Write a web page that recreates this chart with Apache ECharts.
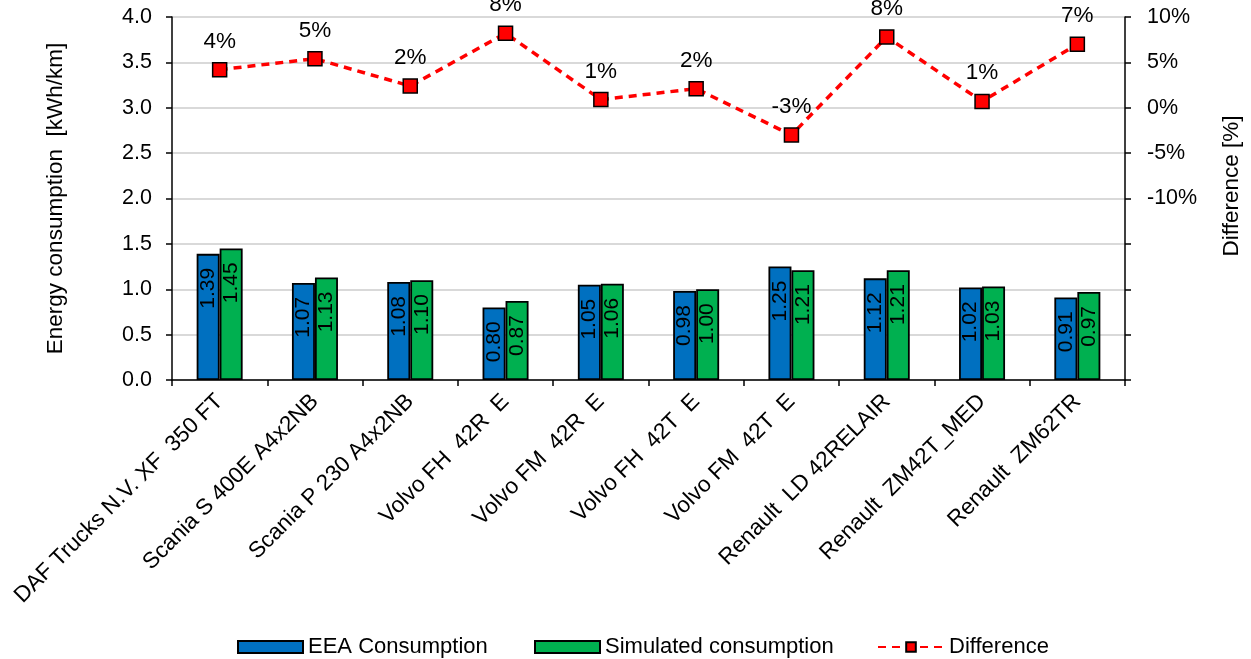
<!DOCTYPE html>
<html>
<head>
<meta charset="utf-8">
<script src="https://cdn.jsdelivr.net/npm/echarts@6/dist/echarts.min.js"></script>
<style>
html,body{margin:0;padding:0;background:#fff;}
#chart{width:1251px;height:659px;}
</style>
</head>
<body>
<div id="chart"></div>
<script>
const categories = [
  "DAF Trucks N.V. XF  350 FT",
  "Scania S 400E A4x2NB",
  "Scania P 230 A4x2NB",
  "Volvo FH  42R  E",
  "Volvo FM  42R  E",
  "Volvo FH  42T  E",
  "Volvo FM  42T  E",
  "Renault  LD 42RELAIR",
  "Renault  ZM42T_MED",
  "Renault  ZM62TR"
];
const eeaConsumption = [1.39, 1.07, 1.08, 0.80, 1.05, 0.98, 1.25, 1.12, 1.02, 0.91];
const simulatedConsumption = [1.45, 1.13, 1.10, 0.87, 1.06, 1.00, 1.21, 1.21, 1.03, 0.97];
const differencePct = [4.2, 5.4, 2.4, 8.2, 0.9, 2.1, -3.0, 7.8, 0.7, 7.0];
const seriesNames = ['EEA Consumption', 'Simulated consumption', 'Difference'];

const FONT = "'Liberation Sans', Arial, sans-serif";
const chart = echarts.init(document.getElementById('chart'), null, {renderer: 'canvas'});

const barLabel = {
  show: true,
  position: 'insideTop',
  distance: 14,
  rotate: 90,
  align: 'right',
  verticalAlign: 'middle',
  fontSize: 21,
  fontFamily: FONT,
  color: '#000',
  formatter: p => p.value.toFixed(2)
};

const legendText = {fontFamily: FONT, fontSize: 22, color: '#000'};
function mkLegend(name, left, w, icon) {
  const l = {
    left: left, top: 636, padding: 0,
    itemWidth: w, itemHeight: 12, itemGap: 0,
    textStyle: legendText,
    data: [name]
  };
  if (icon) l.icon = icon;
  return l;
}

chart.setOption({
  animation: false,
  backgroundColor: '#fff',
  textStyle: {fontFamily: FONT, color: '#000'},
  grid: {left: 172, right: 125, top: 17, bottom: 279, containLabel: false},
  legend: [
    mkLegend(seriesNames[0], 237, 65, 'rect'),
    mkLegend(seriesNames[1], 534, 65, 'rect'),
    mkLegend(seriesNames[2], 877, 66)
  ],
  xAxis: {
    type: 'category',
    data: categories,
    boundaryGap: true,
    axisLine: {lineStyle: {color: '#000', width: 1.5}},
    axisTick: {show: true, alignWithLabel: false, length: 6, lineStyle: {color: '#000', width: 1.5}},
    axisLabel: {rotate: 45, fontSize: 22.5, fontFamily: FONT, color: '#000', margin: 18, interval: 0}
  },
  yAxis: [
    {
      type: 'value',
      min: 0, max: 4, interval: 0.5,
      name: 'Energy consumption  [kWh/km]',
      nameLocation: 'middle',
      nameGap: 105,
      nameRotate: 90,
      nameTextStyle: {fontSize: 22.5, fontFamily: FONT, color: '#000'},
      axisLine: {show: true, lineStyle: {color: '#000', width: 1.5}},
      axisTick: {show: true, length: 6, lineStyle: {color: '#000', width: 1.5}},
      axisLabel: {fontSize: 21.5, fontFamily: FONT, color: '#000', margin: 20, formatter: v => v.toFixed(1)},
      splitLine: {show: true, lineStyle: {color: '#d9d9d9', width: 2}}
    },
    {
      type: 'value',
      min: -30, max: 10, interval: 5,
      position: 'right',
      name: 'Difference [%]',
      nameLocation: 'middle',
      nameGap: 95,
      nameRotate: 90,
      nameTextStyle: {fontSize: 22.5, fontFamily: FONT, color: '#000', padding: [0, 0, 0, 25]},
      axisLine: {show: true, lineStyle: {color: '#000', width: 1.5}},
      axisTick: {show: true, length: 6, lineStyle: {color: '#000', width: 1.5}},
      axisLabel: {fontSize: 21.5, fontFamily: FONT, color: '#000', margin: 22,
        formatter: v => (v >= -10 ? v + '%' : '')},
      splitLine: {show: false}
    }
  ],
  series: [
    {
      name: seriesNames[0],
      type: 'bar',
      data: eeaConsumption,
      barWidth: 23,
      barGap: '0%',
      itemStyle: {color: '#0070c0', borderColor: '#000', borderWidth: 1.8},
      label: barLabel
    },
    {
      name: seriesNames[1],
      type: 'bar',
      data: simulatedConsumption,
      barWidth: 23,
      barGap: '0%',
      itemStyle: {color: '#00b050', borderColor: '#000', borderWidth: 1.8},
      label: barLabel
    },
    {
      name: seriesNames[2],
      type: 'line',
      yAxisIndex: 1,
      data: differencePct,
      symbol: 'rect',
      symbolSize: 14,
      lineStyle: {color: '#ff0000', width: 3.5, type: [8, 6]},
      itemStyle: {color: '#ff0000', borderColor: '#000', borderWidth: 1.5},
      label: {
        show: true, position: 'top', distance: 9,
        fontSize: 22.5, fontFamily: FONT, color: '#000',
        formatter: p => Math.round(p.value) + '%'
      },
      z: 5
    }
  ]
});
</script>
</body>
</html>
